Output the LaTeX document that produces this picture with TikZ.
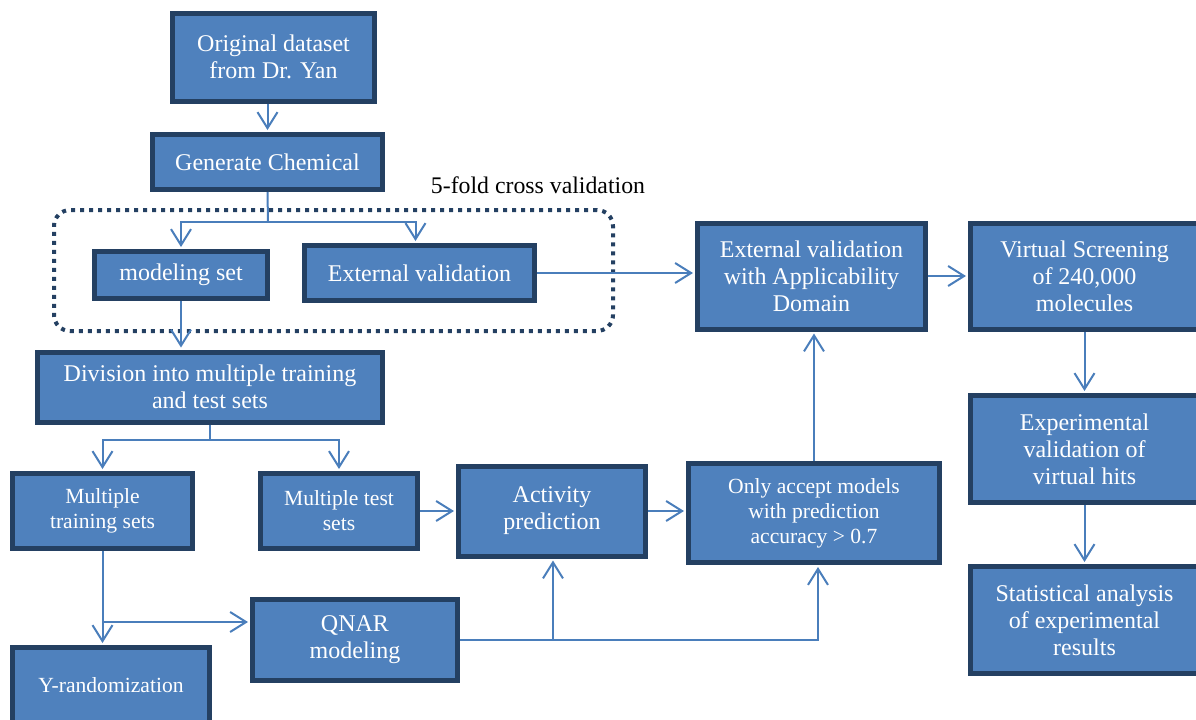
\documentclass[tikz,border=0pt]{standalone}
\usepackage{fontspec}
\setmainfont{Liberation Serif}
\usetikzlibrary{arrows.meta}
\definecolor{boxfill}{RGB}{79,129,189}
\definecolor{boxline}{RGB}{36,64,98}
\definecolor{flowline}{RGB}{74,126,187}

\begin{document}
\begin{tikzpicture}[x=0.5pt,y=-0.5pt,
    box/.style={rectangle,fill=boxfill,draw=boxline,line width=2.5pt,
      text=white,align=center,inner sep=2pt,
      font=\fontsize{12}{13.5}\selectfont},
    small/.style={font=\fontsize{10.8}{12.5}\selectfont},
    flow/.style={draw=flowline,line width=1pt,shorten >=1pt,
      -{Straight Barb[length=8pt,width=10pt]}},
    link/.style={draw=flowline,line width=1pt},
    cvframe/.style={draw=boxline,line width=2pt,
      dash pattern=on 2pt off 2.5pt,rounded corners=8pt}]
  \useasboundingbox (0,0) rectangle (1196,719);
  \clip (0,0) rectangle (1196,719);
  % the cross validation frame
  \node[cvframe,minimum width=279.5pt,minimum height=60.5pt] (cv) at (333.5,270.5) {};
  \node[font=\fontsize{11.9}{13.5}\selectfont] (cvlabel) at (538,185) {5-fold cross validation};
  % left column
  \node[box,minimum width=101pt,minimum height=44pt] (orig) at (273.5,57)
    {Original dataset\\from Dr. Yan};
  \node[box,minimum width=115pt,minimum height=27.5pt] (gen) at (267.5,162)
    {Generate Chemical};
  \node[box,minimum width=86.5pt,minimum height=23.5pt] (model) at (181,275)
    {modeling set};
  \node[box,minimum width=115pt,minimum height=27.5pt] (extv) at (419.5,273)
    {External validation};
  \node[box,minimum width=172.5pt,minimum height=35pt] (div) at (210,387)
    {Division into multiple training\\and test sets};
  \node[box,small,minimum width=90pt,minimum height=37.5pt] (train) at (102.5,511)
    {Multiple\\training sets};
  \node[box,small,minimum width=78.5pt,minimum height=37.5pt] (test) at (339,511)
    {Multiple test\\sets};
  \node[box,minimum width=93.5pt,minimum height=45pt] (act) at (552,511)
    {Activity\\prediction};
  \node[box,small,minimum width=125.5pt,minimum height=49.5pt] (accept) at (814,513)
    {Only accept models\\with prediction\\accuracy > 0.7};
  \node[box,minimum width=102.5pt,minimum height=40.5pt] (qnar) at (355,640)
    {QNAR\\modeling};
  \node[box,small,minimum width=98.5pt,minimum height=37.5pt] (yrand) at (111,685)
    {Y-randomization};
  % right part
  \node[box,minimum width=114pt,minimum height=53pt] (extad) at (811.5,276)
    {External validation\\with Applicability\\Domain};
  \node[box,minimum width=114pt,minimum height=53pt] (vs) at (1084.5,276)
    {Virtual Screening\\of 240,000\\molecules};
  \node[box,minimum width=114pt,minimum height=53.5pt] (expv) at (1084.5,449)
    {Experimental\\validation of\\virtual hits};
  \node[box,minimum width=114pt,minimum height=53.5pt] (stat) at (1084.5,620)
    {Statistical analysis\\of experimental\\results};
  % connectors
  \coordinate (split1) at (268,222);
  \coordinate (split2) at (210,440);
  \coordinate (split3) at (102.5,622);
  \coordinate (split4) at (553,640);
  \draw[flow] (gen.north |- orig.south) -- (gen.north);
  \draw[link] (gen.south) -- (split1);
  \draw[flow] (split1) -| (model.north);
  \draw[flow] (split1) -| ([xshift=-2pt]extv.north);
  \draw[flow] (model.south) -- (model.south |- div.north);
  \draw[flow] (extv.east) -- (extv.east -| extad.west);
  \draw[flow] (extad) -- (vs);
  \draw[flow] (vs) -- (expv);
  \draw[flow] (expv) -- (stat);
  \draw[link] (div.south) -- (split2);
  \draw[flow] (split2) -| (train.north);
  \draw[flow] (split2) -| (test.north);
  \draw[flow] (test.east) -- (test.east -| act.west);
  \draw[flow] (act.east) -- (act.east -| accept.west);
  \draw[flow] (accept.north) -- (accept.north |- extad.south);
  \draw[flow] (train.south) -- (train.south |- yrand.north);
  \draw[flow] (split3) -- (split3 -| qnar.west);
  \draw[link] (qnar.east) -- (split4);
  \draw[flow] (split4) -- (split4 |- act.south);
  \draw[flow] (split4) -| ([xshift=2pt]accept.south);
\end{tikzpicture}
\end{document}
